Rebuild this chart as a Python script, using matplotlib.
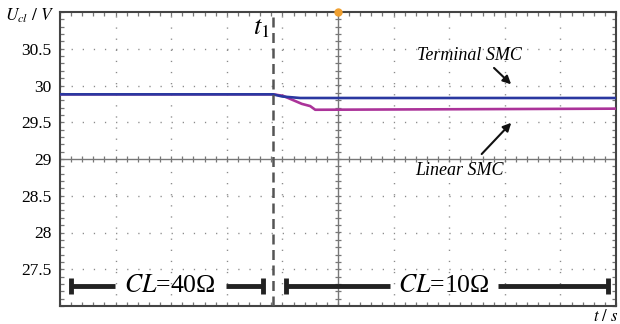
import numpy as np
import matplotlib
matplotlib.use("Agg")
import matplotlib.pyplot as plt
from matplotlib.ticker import MultipleLocator

plt.rcParams['font.family'] = 'Liberation Serif'
plt.rcParams['mathtext.fontset'] = 'stix'

# ==========================
# Traces (time in scope divisions, voltage in V)
# ==========================
t_terminal = [0, 3.83, 4.00, 4.32, 10]
u_terminal = [29.88, 29.88, 29.85, 29.83, 29.83]

t_linear = [0, 3.83, 4.01, 4.35, 4.50, 4.59, 10]
u_linear = [29.88, 29.88, 29.86, 29.75, 29.72, 29.67, 29.685]

t1 = 3.83
y_ticks = [27.5, 28, 28.5, 29, 29.5, 30, 30.5]
load_labels = ["$CL$=40Ω", "$CL$=10Ω"]

# ==========================
# Figure
# ==========================
fig = plt.figure(figsize=(6.2, 3.24), dpi=100)
ax = fig.add_axes([60 / 620, 1 - 306 / 324, 556 / 620, 294 / 324])
ax.set_xlim(0, 10)
ax.set_ylim(27, 31)

# scope grid
grid_c = "#8a8a8a"
for d in range(1, 10):
    if d != 5:
        ax.axvline(d, color=grid_c, lw=1.0, ls=(0, (0.9, 7.1)), zorder=1)
for v in y_ticks:
    if v != 29:
        ax.axhline(v, color=grid_c, lw=1.0, ls=(0, (0.9, 7.1)), zorder=1)
ax.axvline(5, color="#777777", lw=1.0, zorder=1)
ax.axhline(29, color="#777777", lw=1.0, zorder=1)

# small marks on the centre lines
sub_x = np.arange(0, 10.01, 0.2)
sub_y = np.arange(27, 31.01, 0.1)
ax.plot(sub_x, np.full_like(sub_x, 29), ls="none", marker="|", ms=5,
        mew=0.9, color="#777777", zorder=1)
ax.plot(np.full_like(sub_y, 5), sub_y, ls="none", marker="_", ms=5,
        mew=0.9, color="#777777", zorder=1)

# traces
ax.plot(t_linear, u_linear, color="#ab3399", lw=1.9, zorder=3)
ax.plot(t_terminal, u_terminal, color="#2a38a0", lw=1.9, zorder=4)

# switching instant
ax.axvline(t1, color="#555555", lw=1.8, ls=(0, (4, 2.2)), zorder=5)
ax.text(t1 - 0.2, 30.77, "$t_1$", fontsize=19, ha="center", va="center")

# trigger marker
ax.plot([5], [31], marker="o", ms=5, color="#f0a030", clip_on=False, zorder=6)

# labels with arrows
ax.text(7.37, 30.41, "Terminal SMC", fontsize=13, style="italic",
        ha="center", va="center")
ax.annotate("", xy=(8.15, 29.99), xytext=(7.77, 30.265),
            arrowprops=dict(arrowstyle="-|>", color="#111111", lw=1.5,
                            mutation_scale=12))
ax.text(7.19, 28.84, "Linear SMC", fontsize=13, style="italic",
        ha="center", va="center")
ax.annotate("", xy=(8.15, 29.52), xytext=(7.55, 29.04),
            arrowprops=dict(arrowstyle="-|>", color="#111111", lw=1.5,
                            mutation_scale=12))

# load intervals
y_bar = 27.27
bar_c = "#222222"
ax.plot([0.20, 0.99], [y_bar, y_bar], color=bar_c, lw=3.5, solid_capstyle="butt")
ax.plot([2.99, 3.65], [y_bar, y_bar], color=bar_c, lw=3.5, solid_capstyle="butt")
ax.plot([0.20, 3.65], [y_bar, y_bar], ls="none", marker="|", ms=12, mew=3.5,
        color=bar_c)
ax.text(1.98, y_bar, load_labels[0], fontsize=18.5, ha="center", va="center")

ax.plot([4.06, 5.94], [y_bar, y_bar], color=bar_c, lw=3.5, solid_capstyle="butt")
ax.plot([7.88, 9.86], [y_bar, y_bar], color=bar_c, lw=3.5, solid_capstyle="butt")
ax.plot([4.06, 9.86], [y_bar, y_bar], ls="none", marker="|", ms=12, mew=3.5,
        color=bar_c)
ax.text(6.9, y_bar, load_labels[1], fontsize=18.5, ha="center", va="center")

# axes frame and ticks
for s in ax.spines.values():
    s.set_color("#444444")
    s.set_linewidth(1.5)
ax.set_yticks(y_ticks)
ax.set_yticklabels([f"{v:g}" for v in y_ticks], fontsize=12.5)
ax.yaxis.set_minor_locator(MultipleLocator(0.1))
ax.xaxis.set_major_locator(MultipleLocator(1))
ax.xaxis.set_minor_locator(MultipleLocator(0.2))
ax.set_xticklabels([])
ax.tick_params(which="both", direction="in", length=3, width=0.9,
               color="#777777", top=True, right=True, pad=6)

fig.text(54 / 620, 1 - 16 / 324, "$U_{cl}\\ /\\ V$", fontsize=12.5,
         ha="right", va="center")
fig.text(618 / 620, 1 - 317 / 324, "$t\\ /\\ s$", fontsize=12,
         ha="right", va="center")

fig.savefig("out.png", dpi=100)
